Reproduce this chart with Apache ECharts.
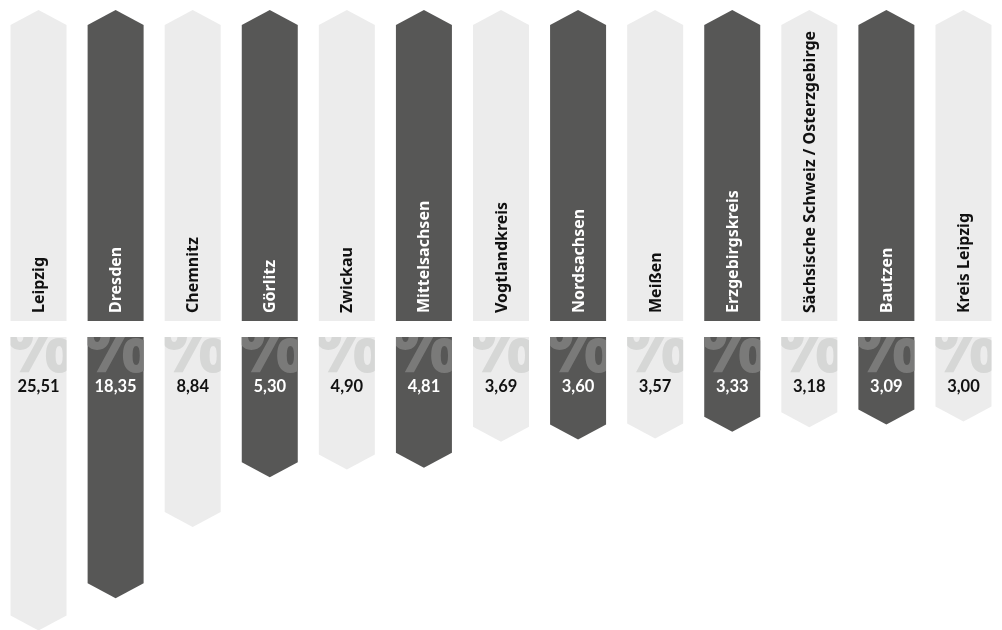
<!DOCTYPE html>
<html>
<head>
<meta charset="utf-8">
<script src="https://cdn.jsdelivr.net/npm/echarts@6/dist/echarts.min.js"></script>
<style>
html,body{margin:0;padding:0;background:#fff;}
#chart{width:1002px;height:630px;}
</style>
</head>
<body>
<div id="chart"></div>
<script>
const categories = ['Leipzig','Dresden','Chemnitz','Görlitz','Zwickau','Mittelsachsen','Vogtlandkreis','Nordsachsen','Meißen','Erzgebirgskreis','Sächsische Schweiz / Osterzgebirge','Bautzen','Kreis Leipzig'];
const values = [25.51,18.35,8.84,5.30,4.90,4.81,3.69,3.60,3.57,3.33,3.18,3.09,3.00];
const valueLabels = ['25,51','18,35','8,84','5,30','4,90','4,81','3,69','3,60','3,57','3,33','3,18','3,09','3,00'];

const LIGHT = '#ececec', DARK = '#575756';
const PCT_LIGHT = '#d6d7d6', PCT_DARK = '#7a7a79';
const BAR_W = 56, TIP = 15;

const chart = echarts.init(document.getElementById('chart'), null, {renderer: 'canvas'});

function topItem(params, api) {
  const i = api.value(0);
  const p1 = api.coord([i, 1]);
  const p0 = api.coord([i, 0]);
  const cx = p1[0], tip = p1[1], bottom = p0[1];
  const h = BAR_W / 2;
  const dark = i % 2 === 1;
  return {
    type: 'group',
    children: [
      {type: 'polygon', shape: {points: [[cx, tip], [cx + h, tip + TIP], [cx + h, bottom], [cx - h, bottom], [cx - h, tip + TIP]]},
       style: {fill: dark ? DARK : LIGHT}},
      {type: 'text', x: cx + 1, y: bottom - 8, rotation: Math.PI / 2,
       style: {text: categories[i], fill: dark ? '#ffffff' : '#111111', fontFamily: 'Noto Sans', fontWeight: 'bold', fontSize: 16, align: 'left', verticalAlign: 'middle'}}
    ]
  };
}

function bottomItem(params, api) {
  const i = api.value(0);
  const pv = api.coord([i, api.value(1)]);
  const cx = pv[0], end = pv[1];
  const top = params.coordSys.y;
  const h = BAR_W / 2;
  const dark = i % 2 === 1;
  const pts = [[cx - h, top], [cx + h, top], [cx + h, end], [cx, end + TIP], [cx - h, end]];
  return {
    type: 'group',
    children: [
      {type: 'polygon', shape: {points: pts}, style: {fill: dark ? DARK : LIGHT}},
      {type: 'text',
       style: {text: '%', x: cx + 1, y: top + 52, fill: dark ? PCT_DARK : PCT_LIGHT, fontFamily: 'Open Sans', fontWeight: 'bold', fontSize: 78, align: 'center', verticalAlign: 'bottom'},
       clipPath: {type: 'rect', shape: {x: cx - h, y: top, width: BAR_W, height: 60}}},
      {type: 'text',
       style: {text: valueLabels[i], x: cx, y: top + 50, fill: dark ? '#ffffff' : '#111111', fontFamily: 'Lato', fontWeight: 'bold', fontSize: 16.5, align: 'center', verticalAlign: 'middle'}}
    ]
  };
}

const option = {
  animation: false,
  backgroundColor: '#ffffff',
  grid: [
    {left: -3, width: 1014, top: 10, height: 311},
    {left: -3, width: 1014, top: 337, height: 293}
  ],
  xAxis: [
    {type: 'category', gridIndex: 0, data: categories, show: false},
    {type: 'category', gridIndex: 1, data: categories, show: false}
  ],
  yAxis: [
    {type: 'value', gridIndex: 0, min: 0, max: 1, show: false},
    {type: 'log', gridIndex: 1, min: 1.47, max: 29.6, inverse: true, show: false}
  ],
  series: [
    {type: 'custom', xAxisIndex: 0, yAxisIndex: 0, renderItem: topItem,
     data: categories.map((c, i) => [i, 1]), encode: {x: 0, y: 1}},
    {type: 'custom', xAxisIndex: 1, yAxisIndex: 1, renderItem: bottomItem, clip: true,
     data: values.map((v, i) => [i, v]), encode: {x: 0, y: 1}}
  ]
};
chart.setOption(option);
</script>
</body>
</html>
